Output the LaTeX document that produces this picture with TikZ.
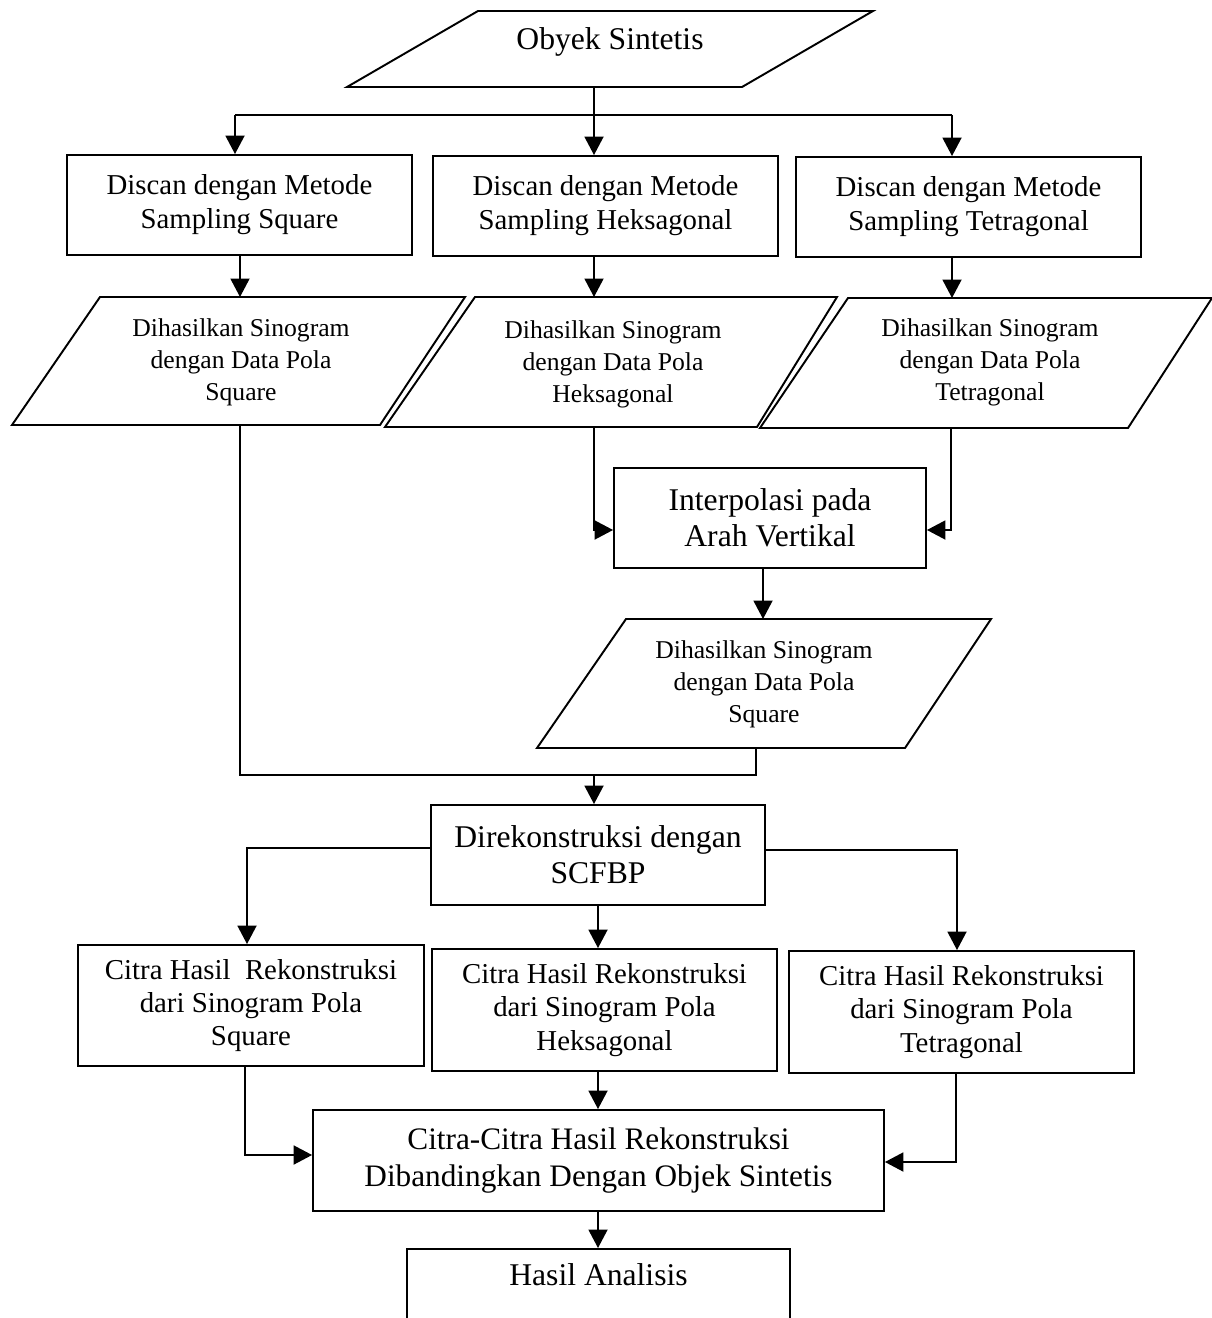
\documentclass[tikz,border=0pt]{standalone}
\usepackage{fontspec}
\setmainfont{Liberation Serif}
\usetikzlibrary{arrows.meta,calc}
\begin{document}
\begin{tikzpicture}[x=0.02cm,y=-0.02cm,
  ln/.style={line width=1.1pt},
  arr/.style={line width=1.1pt,-{Triangle[length=0.37cm,width=0.38cm]}},
  box/.style={draw,line width=1.1pt,inner sep=0pt,align=center},
  txt/.style={inner sep=0pt,align=center},
  fA/.style={font=\fontsize{16.4}{19.4}\selectfont},
  fB/.style={font=\fontsize{14.6}{18.2}\selectfont},
  fC/.style={font=\fontsize{18}{20.5}\selectfont},
  fD/.style={font=\fontsize{17.8}{21.6}\selectfont},
  fE/.style={font=\fontsize{16.4}{19}\selectfont},
]
\useasboundingbox (0,0) rectangle (1212,1318);
\fill[white] (0,0) rectangle (1212,1318);

% helper coordinates
\coordinate (objB) at (594,87);
\coordinate (jL) at (235,115);
\coordinate (jR) at (952,115);
\coordinate (p1t) at (240,297);
\coordinate (p2t) at (594,297);
\coordinate (p3t) at (952,298);
\coordinate (p1b) at (240,425);
\coordinate (p2b) at (594,427);
\coordinate (p3b) at (951,428);
\coordinate (yi) at (0,530);
\coordinate (p4t) at (763,619);
\coordinate (p4b) at (756,748);
\coordinate (jm) at (594,775);
\coordinate (ysl) at (0,848);
\coordinate (ysr) at (0,850);
\coordinate (c1tx) at (247,0);
\coordinate (c3tx) at (957,0);
\coordinate (xm) at (598,0);
\coordinate (c1bx) at (245,0);
\coordinate (c3bx) at (956,0);
\coordinate (ycl) at (0,1155);
\coordinate (ycr) at (0,1162);

% Obyek Sintetis
\draw[ln] (478,11) -- (873,11) -- (742,87) -- (347,87) -- cycle;
\node[txt,fC] (obj) at (610,42) {Obyek Sintetis};

% scan boxes
\node[box,fA,minimum width=6.9cm,minimum height=2cm] (b1) at (239.5,205) {Discan dengan Metode\\Sampling Square};
\node[box,fA,minimum width=6.9cm,minimum height=2cm] (b2) at (605.5,206) {Discan dengan Metode\\Sampling Heksagonal};
\node[box,fA,minimum width=6.9cm,minimum height=2cm] (b3) at (968.5,207) {Discan dengan Metode\\Sampling Tetragonal};

% sinogram parallelograms
\draw[ln] (100,297) -- (465,297) -- (380,425) -- (12,425) -- cycle;
\node[txt,fB] (p1) at (241,362) {Dihasilkan Sinogram\\dengan Data Pola\\Square};
\draw[ln] (475,297) -- (837,297) -- (757,427) -- (385,427) -- cycle;
\node[txt,fB] (p2) at (613,364) {Dihasilkan Sinogram\\dengan Data Pola\\Heksagonal};
\draw[ln] (848,298) -- (1212,298) -- (1128,428) -- (760,428) -- cycle;
\node[txt,fB] (p3) at (990,362) {Dihasilkan Sinogram\\dengan Data Pola\\Tetragonal};

% interpolation
\node[box,fC,minimum width=6.24cm,minimum height=2cm] (interp) at (770,518) {Interpolasi pada\\Arah Vertikal};
\draw[ln] (626,619) -- (991,619) -- (905,748) -- (537,748) -- cycle;
\node[txt,fB] (p4) at (764,684) {Dihasilkan Sinogram\\dengan Data Pola\\Square};

% reconstruction
\node[box,fC,minimum width=6.68cm,minimum height=2cm] (sc) at (598,855) {Direkonstruksi dengan\\SCFBP};

\node[box,fE,minimum width=6.92cm,minimum height=2.42cm] (c1) at (251,1005.5) {Citra Hasil\ \ Rekonstruksi\\dari Sinogram Pola\\Square};
\node[box,fE,minimum width=6.9cm,minimum height=2.44cm] (c2) at (604.5,1010) {Citra Hasil Rekonstruksi\\dari Sinogram Pola\\Heksagonal};
\node[box,fE,minimum width=6.9cm,minimum height=2.44cm] (c3) at (961.5,1012) {Citra Hasil Rekonstruksi\\dari Sinogram Pola\\Tetragonal};

\node[box,fD,minimum width=11.42cm,minimum height=2.02cm] (cmp) at (598.5,1160.5) {Citra-Citra Hasil Rekonstruksi\\Dibandingkan Dengan Objek Sintetis};

\node[box,fC,anchor=north,minimum width=7.66cm,inner ysep=0pt,text height=0.74cm,text depth=1cm] (hasil) at (598.5,1248) {Hasil Analisis};

% connectors
\draw[arr] (objB) -- (objB |- b2.north);
\draw[ln] (jL) -- (jR);
\draw[arr] (jL) -- (jL |- b1.north);
\draw[arr] (jR) -- (jR |- b3.north);

\draw[arr] (p1t |- b1.south) -- (p1t);
\draw[arr] (p2t |- b2.south) -- (p2t);
\draw[arr] (p3t |- b3.south) -- (p3t);

\draw[arr] (p2b) |- (interp.west |- yi);
\draw[arr] (p3b) |- (interp.east |- yi);
\draw[arr] (p4t |- interp.south) -- (p4t);

\draw[ln] (p1b) |- (p4b |- jm) -- (p4b);
\draw[arr] (jm) -- (jm |- sc.north);

\draw[arr] (sc.west |- ysl) -| (c1tx |- c1.north);
\draw[arr] (sc.east |- ysr) -| (c3tx |- c3.north);
\draw[arr] (xm |- sc.south) -- (xm |- c2.north);

\draw[arr] (xm |- c2.south) -- (xm |- cmp.north);
\draw[arr] (c1bx |- c1.south) |- (cmp.west |- ycl);
\draw[arr] (c3bx |- c3.south) |- (cmp.east |- ycr);
\draw[arr] (xm |- cmp.south) -- (xm |- hasil.north);
\end{tikzpicture}
\end{document}
